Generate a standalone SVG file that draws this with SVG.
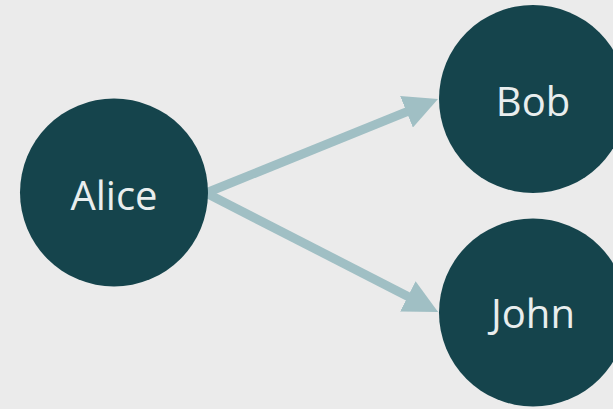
<svg xmlns="http://www.w3.org/2000/svg" width="613" height="409" viewBox="0 0 613 409">
  <style>
    .node { fill: #15444c; }
    .label { fill: #e9eeee; font-family: "Open Sans", "Noto Sans", sans-serif; font-size: 40px; text-anchor: middle; }
    .edge { stroke: #a0bfc4; stroke-width: 9; fill: none; }
  </style>
  <defs>
    <marker id="arrow" markerUnits="userSpaceOnUse" markerWidth="34" markerHeight="34" viewBox="0 0 34 34" refX="4" refY="17" orient="auto">
      <path d="M0,0 L34,17 L0,34 Z" fill="#a0bfc4"/>
    </marker>
  </defs>
  <rect width="613" height="409" fill="#ebebeb"/>
  <g id="edges">
    <line class="edge" x1="206" y1="193" x2="410.2" y2="110.3" marker-end="url(#arrow)"/>
    <line class="edge" x1="206" y1="193" x2="411.4" y2="298.2" marker-end="url(#arrow)"/>
  </g>
  <g id="alice">
    <circle class="node" cx="114" cy="192.5" r="94"/>
    <text class="label" x="114" y="210">Alice</text>
  </g>
  <g id="bob">
    <circle class="node" cx="533" cy="99" r="94"/>
    <text class="label" x="533" y="116">Bob</text>
  </g>
  <g id="john">
    <circle class="node" cx="533" cy="312.5" r="94"/>
    <text class="label" x="533" y="328">John</text>
  </g>
</svg>
